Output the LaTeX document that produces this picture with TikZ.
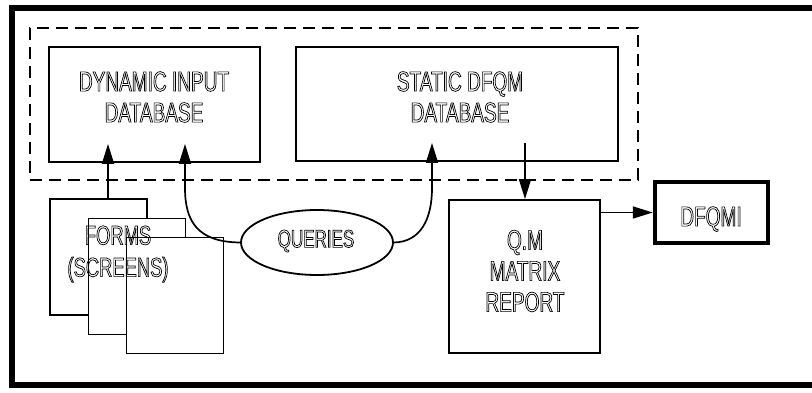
\documentclass[tikz,border=0pt]{standalone}
\usepackage{fontspec}
\setmainfont{Liberation Sans}[FakeStretch=0.68]
\usetikzlibrary{arrows.meta,shapes.geometric,calc}
\tikzset{
  bx/.style={draw,line width=1.8pt,inner sep=0pt,rectangle,fill=white},
  page/.style={draw,line width=1.8pt,inner sep=0pt,rectangle,fill=white,minimum width=97pt,minimum height=116pt},
  grpbox/.style={draw,line width=1.5pt,dash pattern=on 12pt off 7pt,inner sep=0pt,rectangle},
  arr/.style={line width=1.7pt,-{Triangle[length=20pt,width=12pt]}},
  txt/.style={font=\fontsize{28}{31}\selectfont,align=center,inner sep=0pt,
    execute at begin node={\special{pdf:code q 1 Tr 0.7 w}},
    execute at end node={\special{pdf:code Q}}},
}
\begin{document}
\begin{tikzpicture}[x=1pt,y=-1pt]
\useasboundingbox (0,0) rectangle (812,393);
% outer frame
\draw[line width=5.5pt] (12,8) rectangle (840,385);
% dashed group
\node[grpbox,minimum width=608pt,minimum height=152pt] (grp) at (334,104) {};
% databases
\node[bx,minimum width=211pt,minimum height=115pt] (dyn) at (154.5,104.5) {};
\node[bx,minimum width=322pt,minimum height=114pt] (stat) at (457,104) {};
% pages
\node[page] (p1) at (98.5,257) {};
\node[page] (p2) at (137,276.5) {};
\node[page] (p3) at (175,295.5) {};
% queries
\node[draw,ellipse,line width=1.8pt,inner sep=0pt,minimum width=152pt,minimum height=65pt] (q) at (317,242.5) {};
% report
\node[bx,minimum width=151pt,minimum height=153pt] (qm) at (524.5,276.5) {};
\node[bx,line width=4.5pt,minimum width=113pt,minimum height=61pt] (dfq) at (711.5,212.5) {};
% texts
\node[txt] (tdyn) at (154,97) {DYNAMIC INPUT\\DATABASE};
\node[txt] (tstat) at (460,97) {STATIC DFQM\\DATABASE};
\node[txt,font=\fontsize{27}{32}\selectfont] (tforms) at (118,254) {FORMS\\(SCREENS)};
\node[txt,font=\fontsize{25}{30}\selectfont] (tq) at (316,241) {QUERIES};
\node[txt] (tqm) at (525,271) {Q.M\\MATRIX\\REPORT};
\node[txt] (tdfq) at (711,219) {DFQMI};
% connectors
\coordinate (a1s) at ($(p1.north)+(9.5,0)$);
\coordinate (a1e) at ($(dyn.south)+(-46.5,-19)$);
\draw[arr] (a1s) -- (a1e);
\coordinate (a2e) at ($(dyn.south)+(30.5,-19)$);
\draw[arr] (q.west) .. controls (198,242) and (185,222) .. (185,188) -- (a2e);
\coordinate (a3e) at ($(stat.south)+(-25,-19)$);
\draw[arr] (q.east) .. controls (420,242) and (432,220) .. (432,188) -- (a3e);
\coordinate (a4s) at ($(stat.south)+(68,-19)$);
\draw[arr] (a4s) -- (a4s |- qm.north);
\draw[arr] (qm.east |- dfq.west) -- (dfq.west);
\end{tikzpicture}
\end{document}
